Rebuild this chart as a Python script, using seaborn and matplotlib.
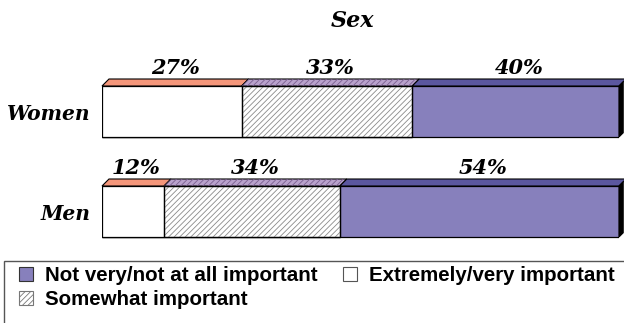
import numpy as np
import pandas as pd
import matplotlib
matplotlib.use("Agg")
import matplotlib.pyplot as plt
from matplotlib.patches import Polygon, Patch, Rectangle
import seaborn as sns

# Share of respondents in each importance group, by sex
groups = ["Women", "Men"]
extremely_very = [27, 12]
somewhat = [33, 34]
not_very = [40, 54]

segment_names = ["Extremely/very important", "Somewhat important",
                 "Not very/not at all important"]
legend_order = ["Not very/not at all important", "Somewhat important",
                "Extremely/very important"]

front_colors = {"Extremely/very important": "#FFFFFF",
                "Somewhat important": "#FFFFFF",
                "Not very/not at all important": "#8780BC"}
top_colors = {"Extremely/very important": "#F4967A",
              "Somewhat important": "#B9A2CC",
              "Not very/not at all important": "#5B579F"}

# Running totals so each stacked segment ends where it should
values = np.array([extremely_very, somewhat, not_very], dtype=float)
ends = values.cumsum(axis=0)
starts = ends - values

rows = []
for s, name in enumerate(segment_names):
    for g, grp in enumerate(groups):
        rows.append({"group": grp, "segment": name, "end": ends[s, g]})
df = pd.DataFrame(rows)

sns.set_theme(style="white")
plt.rcParams["font.family"] = ["DejaVu Serif"]
plt.rcParams["text.color"] = "black"
plt.rcParams["ytick.color"] = "black"
plt.rcParams["hatch.linewidth"] = 0.6

W, H = 624, 323
fig = plt.figure(figsize=(W / 100, H / 100), dpi=100)
ax = fig.add_axes([102 / W, (H - 261.5) / H, 517 / W, 200 / H])

# Draw the longest (cumulative) bars first so shorter ones sit on top
draw_order = segment_names[::-1]
sns.barplot(data=df, x="end", y="group", hue="segment", hue_order=draw_order,
            order=groups, dodge=False, width=0.51, orient="h",
            palette=[front_colors[n] for n in draw_order],
            edgecolor="black", linewidth=0.9, saturation=1, legend=False, ax=ax)

ax.set_xlim(0, 100)
ax.set_ylim(1.5, -0.5)
for sp in ax.spines.values():
    sp.set_visible(False)
ax.set_xticks([])
ax.set_xlabel("")
ax.set_ylabel("")
ax.tick_params(axis="y", length=0, pad=8, labelcolor="black")
ax.set_yticks(range(len(groups)))
ax.set_yticklabels(groups, fontsize=14.6, fontweight="bold", fontstyle="italic")

# Fine grey hatching on the "somewhat" segment
for g in range(len(groups)):
    ax.add_patch(Rectangle((starts[1, g], g - 0.255), values[1, g], 0.51,
                           facecolor="none", edgecolor="#8a8a8a", hatch="//////",
                           linewidth=0, zorder=3))
    ax.add_patch(Rectangle((starts[1, g], g - 0.255), values[1, g], 0.51,
                           facecolor="none", edgecolor="black", linewidth=0.9,
                           zorder=4))

# Depth of the 3-D top and side faces, converted from pixels to data units
depth_px = 7
dx = depth_px / 517 * 100
dy = depth_px / 200 * 2.0
half = 0.255

for g in range(len(groups)):
    top = g - half
    bot = g + half
    for s, name in enumerate(segment_names):
        x0, x1 = starts[s, g], ends[s, g]
        face = Polygon([(x0, top), (x1, top), (x1 + dx, top - dy), (x0 + dx, top - dy)],
                       closed=True, facecolor=top_colors[name], edgecolor="black",
                       linewidth=0.8, zorder=5, clip_on=False)
        ax.add_patch(face)
        if s == 1:
            ax.add_patch(Polygon([(x0, top), (x1, top), (x1 + dx, top - dy), (x0 + dx, top - dy)],
                                 closed=True, facecolor="none", edgecolor="#7a5f90",
                                 hatch="//////", linewidth=0, zorder=5, clip_on=False))
        # percentage label over the segment
        ax.text((x0 + x1) / 2 + dx / 2, top - dy - 0.01, f"{int(values[s, g])}%",
                ha="center", va="bottom", fontsize=15, fontweight="bold",
                fontstyle="italic", color="black", zorder=6, clip_on=False)
    # dark right-hand side face
    xe = ends[-1, g]
    side = Polygon([(xe, top), (xe + dx * 0.6, top - dy * 0.6), (xe + dx * 0.6, bot - dy * 0.6), (xe, bot)],
                   closed=True, facecolor="black", edgecolor="black", linewidth=0.8,
                   zorder=5, clip_on=False)
    ax.add_patch(side)

fig.text(352 / W, 1 - 21 / H, "Sex", ha="center", va="center", fontsize=16,
         fontweight="bold", fontstyle="italic", color="black")

# Legend box along the bottom
fig.patches.append(Rectangle((4 / W, -0.1), 1.0, (H - 261) / H + 0.1,
                             transform=fig.transFigure, facecolor="white",
                             edgecolor="#555555", linewidth=1.0, zorder=0))
handles = {
    "Not very/not at all important": Patch(facecolor="#8780BC", edgecolor="#333333", linewidth=0.8),
    "Somewhat important": Patch(facecolor="white", edgecolor="#777777", hatch="//////", linewidth=0.8),
    "Extremely/very important": Patch(facecolor="white", edgecolor="#555555", linewidth=0.8),
}
leg = fig.legend([handles[n] for n in legend_order], legend_order, ncol=2,
                 loc="upper left", bbox_to_anchor=(19 / W, 1 - 266 / H),
                 frameon=False, borderpad=0, borderaxespad=0,
                 handlelength=0.7, handleheight=0.7, handletextpad=0.55,
                 columnspacing=1.25, labelspacing=0.25,
                 prop={"family": "Liberation Sans", "weight": "bold", "size": 14.8})
for t in leg.get_texts():
    t.set_color("black")

fig.savefig("out.png", dpi=100)
